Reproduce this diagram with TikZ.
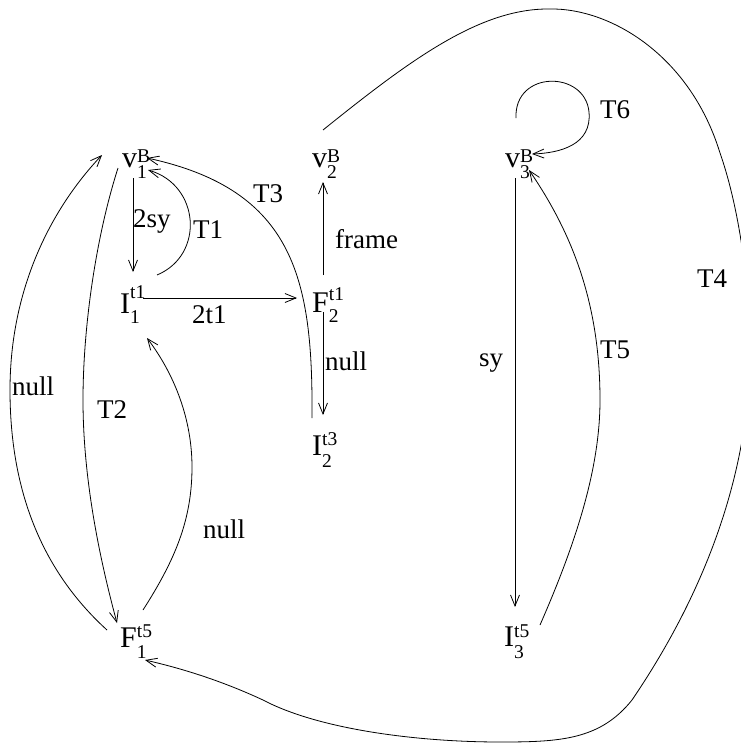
\documentclass[tikz,border=0pt]{standalone}
\usepackage{fontspec}
\setmainfont{Liberation Serif}
\usetikzlibrary{arrows.meta}
\newcommand{\subfnt}{\fontsize{19.5}{19.5}\selectfont}
\newcommand{\nlab}[5]{#1\rlap{\raisebox{#4}{\subfnt #3}}\raisebox{-#5}{\subfnt #2}}
\tikzset{
  arr/.style={-{Straight Barb[length=11pt,width=9pt]}, line width=0.8pt},
  vtx/.style={anchor=base west, inner sep=0pt, font=\fontsize{30}{34}\selectfont},
  lbl/.style={anchor=base west, inner sep=0pt, font=\fontsize{27}{32}\selectfont}
}
\begin{document}
\begin{tikzpicture}[x=1pt,y=-1pt]
\useasboundingbox (0,0) rectangle (740,744);
% vertices
\node[vtx] (v1) at (122,167) {\nlab{v}{1}{B}{5pt}{11pt}};
\node[vtx] (v2) at (312,167) {\nlab{v}{2}{B}{5pt}{11pt}};
\node[vtx] (v3) at (505,167) {\nlab{v}{3}{B}{5pt}{11pt}};
\node[vtx] (I1) at (120,313) {\nlab{I}{1}{t1}{15pt}{10pt}};
\node[vtx] (F2) at (312,312) {\nlab{F}{2}{t1}{12pt}{10pt}};
\node[vtx] (I2) at (312,455) {\nlab{I}{2}{t3}{10pt}{12pt}};
\node[vtx] (F1) at (120,647) {\nlab{F}{1}{t5}{10pt}{11pt}};
\node[vtx] (I3) at (504,646) {\nlab{I}{3}{t5}{9pt}{12pt}};
% straight edges
\draw[arr] ([shift={(11,11)}]v1.base west) -- ([shift={(13,-41)}]I1.base west);
\draw[arr] ([shift={(23,-15)}]I1.base west) -- ([shift={(-15,-14)}]F2.base west);
\draw[arr] ([shift={(11,-37)}]F2.base west) -- ([shift={(11,15)}]v2.base west);
\draw[arr] ([shift={(11,0)}]F2.base west) -- ([shift={(11,-40)}]I2.base west);
\draw[arr] ([shift={(10,11)}]v3.base west) -- ([shift={(11,-39)}]I3.base west);
% T1
\draw[arr] ([shift={(37,-38)}]I1.base west) .. controls (205,255) and (200,185) .. ([shift={(26,3)}]v1.base west);
% T3
\draw[arr] ([shift={(0,-37)}]I2.base west) .. controls (313,280) and (295,190) .. ([shift={(25,-9)}]v1.base west);
% T5
\draw[arr] ([shift={(36,-21)}]I3.base west) .. controls (575,545) and (600,470) .. (600,400)
   .. controls (600,300) and (570,230) .. ([shift={(24,3)}]v3.base west);
% T6
\draw[arr] ([shift={(11,-49)}]v3.base west) .. controls (514,70) and (585,70) .. (589,112)
   .. controls (592,145) and (560,153) .. ([shift={(27,-13)}]v3.base west);
% T4
\draw[arr] ([shift={(11,-37)}]v2.base west) .. controls (410,60) and (480,8) .. (550,9)
   .. controls (610,8) and (690,55) .. (720,153)
   .. controls (740,210) and (750,290) .. (750,350)
   .. controls (750,480) and (700,600) .. (632,700)
   .. controls (600,740) and (560,742) .. (500,742)
   .. controls (420,742) and (320,730) .. (263,700)
   .. controls (220,680) and (180,668) .. ([shift={(25,13)}]F1.base west);
% null left
\draw[arr] ([shift={(-13,-17)}]F1.base west) .. controls (30,560) and (10,470) .. (10,390)
   .. controls (10,290) and (50,210) .. ([shift={(-20,-12)}]v1.base west);
% T2
\draw[arr] ([shift={(-4,1)}]v1.base west) .. controls (95,240) and (83,330) .. (83,400)
   .. controls (83,480) and (100,560) .. ([shift={(-3,-24)}]F1.base west);
% null F1 -> I1
\draw[arr] ([shift={(23,-37)}]F1.base west) .. controls (175,560) and (192,520) .. (192,467)
   .. controls (192,420) and (175,375) .. ([shift={(27,25)}]I1.base west);
% labels
\node[lbl] (l2sy) at (133,227) {2sy};
\node[lbl] (lT1) at (193,238) {T1};
\node[lbl] (lT3) at (253,202) {T3};
\node[lbl] (l2t1) at (192,323) {2t1};
\node[lbl] (lframe) at (335,248) {frame};
\node[lbl] (lnull2) at (325,370) {null};
\node[lbl] (lnullL) at (12,395) {null};
\node[lbl] (lT2) at (97,418) {T2};
\node[lbl] (lnull1) at (203,538) {null};
\node[lbl] (lsy) at (479,366) {sy};
\node[lbl] (lT5) at (600,358) {T5};
\node[lbl] (lT4) at (697,287) {T4};
\node[lbl] (lT6) at (600,118) {T6};
\end{tikzpicture}
\end{document}
